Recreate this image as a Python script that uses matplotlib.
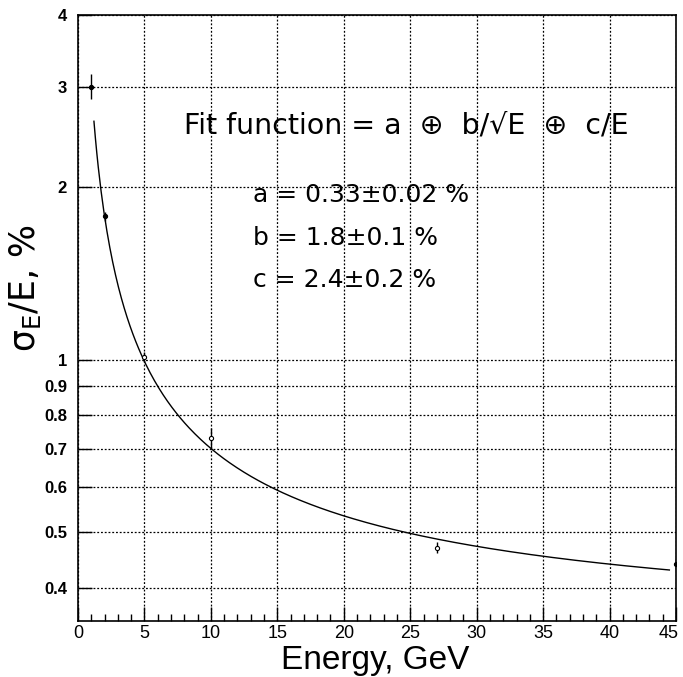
import numpy as np
import matplotlib
matplotlib.use("Agg")
import matplotlib.pyplot as plt
import matplotlib.transforms as mtransforms
from matplotlib.ticker import FixedLocator, MultipleLocator, NullFormatter, NullLocator

# measured points
energy = [1, 2, 5, 10, 27, 45]
resolution = [3.0, 1.78, 1.01, 0.73, 0.47, 0.44]
res_err = [0.15, 0.03, 0.02, 0.03, 0.01, 0.01]
open_marker = [False, False, True, True, True, False]

# fit parameters (%)
fit_a, fit_b, fit_c = 0.33, 1.8, 2.4
fit_range = (1.2, 44.5)

yticks = [0.4, 0.5, 0.6, 0.7, 0.8, 0.9, 1, 2, 3, 4]
ytick_labels = ["0.4", "0.5", "0.6", "0.7", "0.8", "0.9", "1", "2", "3", "4"]
xticks = [0, 5, 10, 15, 20, 25, 30, 35, 40, 45]

plt.rcParams['font.family'] = ['Liberation Sans', 'DejaVu Sans']
plt.rcParams['mathtext.fontset'] = 'custom'
plt.rcParams['mathtext.rm'] = 'DejaVu Sans'

fig = plt.figure(figsize=(6.83, 6.77), dpi=100)
ax = fig.add_axes([78 / 683, 1 - 621 / 677, (676 - 78) / 683, (621 - 15) / 677])

ax.set_yscale('log')
ax.set_xlim(0, 45)
ax.set_ylim(0.35, 4)

# fit curve
e = np.linspace(fit_range[0], fit_range[1], 400)
ax.plot(e, np.sqrt(fit_a**2 + fit_b**2 / e + fit_c**2 / e**2), color='black', lw=1)

# data points
for x, y, err, op in zip(energy, resolution, res_err, open_marker):
    ax.errorbar(x, y, yerr=err, xerr=0.2 if x == 1 else None, fmt='o', ms=3,
                mfc='white' if op else 'black', mec='black', ecolor='black',
                elinewidth=1, capsize=0, mew=0.8, zorder=3)

ax.yaxis.set_major_locator(FixedLocator(yticks))
ax.set_yticklabels(ytick_labels, fontsize=12, fontweight='bold')
ax.yaxis.set_minor_locator(NullLocator())
ax.yaxis.set_minor_formatter(NullFormatter())
ax.xaxis.set_major_locator(FixedLocator(xticks))
ax.xaxis.set_minor_locator(MultipleLocator(1))
ax.set_xticklabels([str(v) for v in xticks], fontsize=13)

ax.tick_params(axis='both', which='major', direction='in', length=10, width=1, color='black')
ax.tick_params(axis='x', which='minor', direction='in', length=5, width=1)
ax.tick_params(axis='x', pad=3)
ax.tick_params(axis='y', pad=8)

# keep the last x label inside the figure
last = ax.get_xticklabels()[-1]
last.set_transform(last.get_transform() + mtransforms.ScaledTranslation(-5 / 72, 0, fig.dpi_scale_trans))

ax.grid(True, which='major', color='black', linestyle=(0, (1.5, 1.5)), linewidth=0.9)
for s in ax.spines.values():
    s.set_linewidth(1.2)

ax.set_xlabel("Energy, GeV", fontsize=24)
ax.xaxis.set_label_coords(0.497, -0.04)
ax.set_ylabel(r"$\mathregular{\sigma_E}$/E, %", fontsize=25, family='DejaVu Sans')
ax.yaxis.set_label_coords(-0.058, 0.55)

ax.text(0.178, 0.818, "Fit function = a  \u2295  b/\u221aE  \u2295  c/E", fontsize=20.5,
        family='DejaVu Sans', transform=ax.transAxes, va='center')
params = ["a = 0.33\u00b10.02 %", "b = 1.8\u00b10.1 %", "c = 2.4\u00b10.2 %"]
for i, p in enumerate(params):
    ax.text(0.292, 0.703 - 0.0705 * i, p, fontsize=18, family='DejaVu Sans',
            transform=ax.transAxes, va='center')

fig.savefig("out.png", dpi=100, facecolor='white')
